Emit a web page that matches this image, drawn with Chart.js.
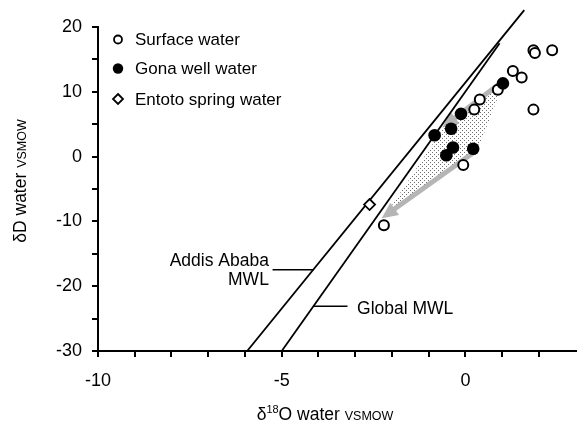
<!DOCTYPE html>
<html>
<head>
<meta charset="utf-8">
<script src="https://cdn.jsdelivr.net/npm/chart.js@4.4.1/dist/chart.umd.min.js"></script>
<style>
html, body { margin: 0; padding: 0; background: #fff; }
</style>
</head>
<body>
<canvas id="myChart" width="583" height="424"></canvas>
<script>
//values (delta 18O and delta D, per mil VSMOW)
let surfaceO = [1.85, 1.89, 2.36, 1.29, 1.53, 0.88, 0.39, 0.24, 1.85, -0.06, -2.22];
let surfaceD = [16.4, 16.0, 16.4, 13.2, 12.2, 10.3, 8.8, 7.25, 7.25, -1.3, -10.6];
let gonaO = [1.02, -0.12, -0.39, -0.84, -0.34, -0.52, 0.21];
let gonaD = [11.3, 6.6, 4.3, 3.3, 1.4, 0.2, 1.2];
let entotoO = [-2.61];
let entotoD = [-7.4];

//meteoric water lines (end points)
let addisO = [-5.94, 1.60];
let addisD = [-30, 22.6];
let globalO = [-5.0, 0.93];
let globalD = [-30, 17.5];

//evaporation field and the two grey arrows
let fieldO = [1.05, 0.30, -2.20, -0.60];
let fieldD = [11.6, 0.5, -9.2, 4.4];
let arrowFromO = [0.99, 0.26];
let arrowFromD = [11.5, 0.8];
let arrowToO = [-0.63, -2.28];
let arrowToD = [4.5, -9.5];

//tick labels
let xLabels = [-10, -5, 0];
let yLabels = [-30, -20, -10, 0, 10, 20];

const FONT = "'Liberation Sans', Arial, sans-serif";

function toXY(xs, ys) {
    return xs.map((v, i) => ({x: v, y: ys[i]}));
}

//line x for a given y on a two point line
function xOnLine(xs, ys, yv) {
    return xs[0] + (yv - ys[0]) * (xs[1] - xs[0]) / (ys[1] - ys[0]);
}

//stipple pattern for the field
const pat = document.createElement('canvas');
pat.width = 4; pat.height = 4;
const pc = pat.getContext('2d');
pc.fillStyle = '#fff';
pc.fillRect(0, 0, 4, 4);
pc.fillStyle = '#6e6e6e';
pc.fillRect(0, 0, 1, 1);
pc.fillRect(2, 2, 1, 1);

function drawArrow(ctx, x0, y0, x1, y1) {
    const dx = x1 - x0, dy = y1 - y0;
    const len = Math.sqrt(dx * dx + dy * dy);
    const ux = dx / len, uy = dy / len;
    const L = 16, W = 7.5;
    const bx = x1 - ux * L, by = y1 - uy * L;
    ctx.strokeStyle = '#b5b5b5';
    ctx.lineWidth = 5;
    ctx.lineCap = 'butt';
    ctx.beginPath();
    ctx.moveTo(x0, y0);
    ctx.lineTo(bx + ux * 2, by + uy * 2);
    ctx.stroke();
    ctx.fillStyle = '#b5b5b5';
    ctx.beginPath();
    ctx.moveTo(x1, y1);
    ctx.lineTo(bx - uy * W, by + ux * W);
    ctx.lineTo(bx + uy * W, by - ux * W);
    ctx.closePath();
    ctx.fill();
}

//draw text made of runs with different sizes
function drawRuns(ctx, runs, x, y, align) {
    let total = 0;
    runs.forEach(r => { ctx.font = r[1] + 'px ' + FONT; total += ctx.measureText(r[0]).width; });
    let cx = align === 'center' ? x - total / 2 : x;
    ctx.textAlign = 'left';
    ctx.textBaseline = 'alphabetic';
    runs.forEach(r => {
        ctx.font = r[1] + 'px ' + FONT;
        ctx.fillText(r[0], cx, y + r[2]);
        cx += ctx.measureText(r[0]).width;
    });
}

const overlay = {
    id: 'overlay',
    beforeDatasetsDraw(chart) {
        const {ctx, scales: {x, y}} = chart;
        ctx.save();
        ctx.beginPath();
        fieldO.forEach((o, i) => {
            const px = x.getPixelForValue(o), py = y.getPixelForValue(fieldD[i]);
            if (i) ctx.lineTo(px, py); else ctx.moveTo(px, py);
        });
        ctx.closePath();
        ctx.fillStyle = ctx.createPattern(pat, 'repeat');
        ctx.fill();
        for (let i = 0; i < arrowFromO.length; i++) {
            drawArrow(ctx,
                x.getPixelForValue(arrowFromO[i]), y.getPixelForValue(arrowFromD[i]),
                x.getPixelForValue(arrowToO[i]), y.getPixelForValue(arrowToD[i]));
        }
        ctx.restore();
    },
    afterDraw(chart) {
        const {ctx, scales: {x, y}} = chart;
        ctx.save();
        ctx.fillStyle = '#000';
        ctx.strokeStyle = '#000';

        //legend inside the plot
        const lx = 118, rows = [39.5, 68.5, 99];
        ctx.lineWidth = 1.8;
        ctx.beginPath(); ctx.arc(lx, rows[0], 4, 0, Math.PI * 2);
        ctx.fillStyle = '#fff'; ctx.fill(); ctx.stroke();
        ctx.beginPath(); ctx.arc(lx, rows[1], 5.2, 0, Math.PI * 2);
        ctx.fillStyle = '#000'; ctx.fill();
        ctx.beginPath();
        ctx.moveTo(lx, rows[2] - 5); ctx.lineTo(lx + 5, rows[2]);
        ctx.lineTo(lx, rows[2] + 5); ctx.lineTo(lx - 5, rows[2]);
        ctx.closePath(); ctx.fillStyle = '#fff'; ctx.fill(); ctx.stroke();
        ctx.fillStyle = '#000';
        ctx.font = '17px ' + FONT;
        ctx.textAlign = 'left';
        ctx.textBaseline = 'middle';
        ['Surface water', 'Gona well water', 'Entoto spring water'].forEach((t, i) => {
            ctx.fillText(t, 135, rows[i] + 1);
        });

        //line labels with leaders
        ctx.lineWidth = 1.5;
        const aY = -17.45;
        ctx.beginPath();
        ctx.moveTo(x.getPixelForValue(-5.25), y.getPixelForValue(aY));
        ctx.lineTo(x.getPixelForValue(xOnLine(addisO, addisD, aY)), y.getPixelForValue(aY));
        ctx.stroke();
        const gY = -23.1;
        ctx.beginPath();
        ctx.moveTo(x.getPixelForValue(xOnLine(globalO, globalD, gY)), y.getPixelForValue(gY));
        ctx.lineTo(x.getPixelForValue(-3.21), y.getPixelForValue(gY));
        ctx.stroke();
        ctx.font = '17.5px ' + FONT;
        ctx.textAlign = 'right';
        ctx.fillText('Addis Ababa', x.getPixelForValue(-5.35), y.getPixelForValue(-16.15));
        ctx.fillText('MWL', x.getPixelForValue(-5.35), y.getPixelForValue(-19.1));
        ctx.textAlign = 'left';
        ctx.fillText('Global MWL', x.getPixelForValue(-2.95), y.getPixelForValue(-23.55));

        //axis titles
        drawRuns(ctx, [['\u03b4', 17.5, 0], ['18', 11, -7], ['O water ', 17.5, 0], ['VSMOW', 12.5, 0]], 325, 420, 'center');
        ctx.save();
        ctx.translate(26, 181);
        ctx.rotate(-Math.PI / 2);
        drawRuns(ctx, [['\u03b4D water ', 17.5, 0], ['VSMOW', 12.5, 0]], 0, 0, 'center');
        ctx.restore();
        ctx.restore();
    }
};

const tickFont = {family: FONT, size: 18};

const ctx = document.getElementById('myChart').getContext('2d');
const myChart = new Chart(ctx, {
    type: 'scatter',
    data: {
        datasets: [
            {
                label: 'Gona well water',
                data: toXY(gonaO, gonaD),
                pointStyle: 'circle',
                pointRadius: 6.3,
                borderWidth: 0,
                backgroundColor: '#000',
                borderColor: '#000',
                order: 0
            },
            {
                label: 'Surface water',
                data: toXY(surfaceO, surfaceD),
                pointStyle: 'circle',
                pointRadius: 5,
                borderWidth: 2,
                backgroundColor: '#fff',
                borderColor: '#000',
                order: 1
            },
            {
                label: 'Entoto spring water',
                data: toXY(entotoO, entotoD),
                pointStyle: 'rectRot',
                pointRadius: 5.5,
                borderWidth: 1.8,
                backgroundColor: '#fff',
                borderColor: '#000',
                order: 1
            },
            {
                label: 'Addis Ababa MWL',
                data: toXY(addisO, addisD),
                showLine: true,
                pointRadius: 0,
                borderColor: '#000',
                borderWidth: 1.8,
                clip: false,
                order: 5
            },
            {
                label: 'Global MWL',
                data: toXY(globalO, globalD),
                showLine: true,
                pointRadius: 0,
                borderColor: '#000',
                borderWidth: 1.8,
                clip: false,
                order: 5
            }
        ]
    },
    options: {
        responsive: false,
        animation: false,
        devicePixelRatio: 1,
        events: [],
        layout: {padding: {left: 0, right: 0, top: 27, bottom: 0}},
        plugins: {
            legend: {display: false},
            tooltip: {enabled: false}
        },
        scales: {
            x: {
                type: 'linear',
                min: -10,
                max: 3,
                border: {display: true, color: '#000', width: 2},
                grid: {
                    drawOnChartArea: false,
                    drawTicks: true,
                    tickLength: 6,
                    lineWidth: 2,
                    color: c => c.tick && c.tick.value === 3 ? 'rgba(0,0,0,0)' : '#000'
                },
                ticks: {
                    stepSize: 1,
                    autoSkip: false,
                    maxRotation: 0,
                    color: '#000',
                    font: tickFont,
                    padding: 13,
                    callback: v => xLabels.includes(v) ? String(v) : ''
                },
                afterFit: s => {
                    s.height = 73;
                    s.paddingLeft = 0;
                    s.paddingRight = 0;
                }
            },
            y: {
                type: 'linear',
                min: -30,
                max: 20,
                border: {display: true, color: '#000', width: 2},
                grid: {
                    drawOnChartArea: false,
                    drawTicks: true,
                    tickLength: 6,
                    lineWidth: 2,
                    color: '#000'
                },
                ticks: {
                    stepSize: 5,
                    autoSkip: false,
                    color: '#000',
                    font: tickFont,
                    padding: 10,
                    callback: v => yLabels.includes(v) ? String(v) : ''
                },
                afterFit: s => { s.width = 98; }
            }
        }
    },
    plugins: [overlay]
});
</script>
</body>
</html>
